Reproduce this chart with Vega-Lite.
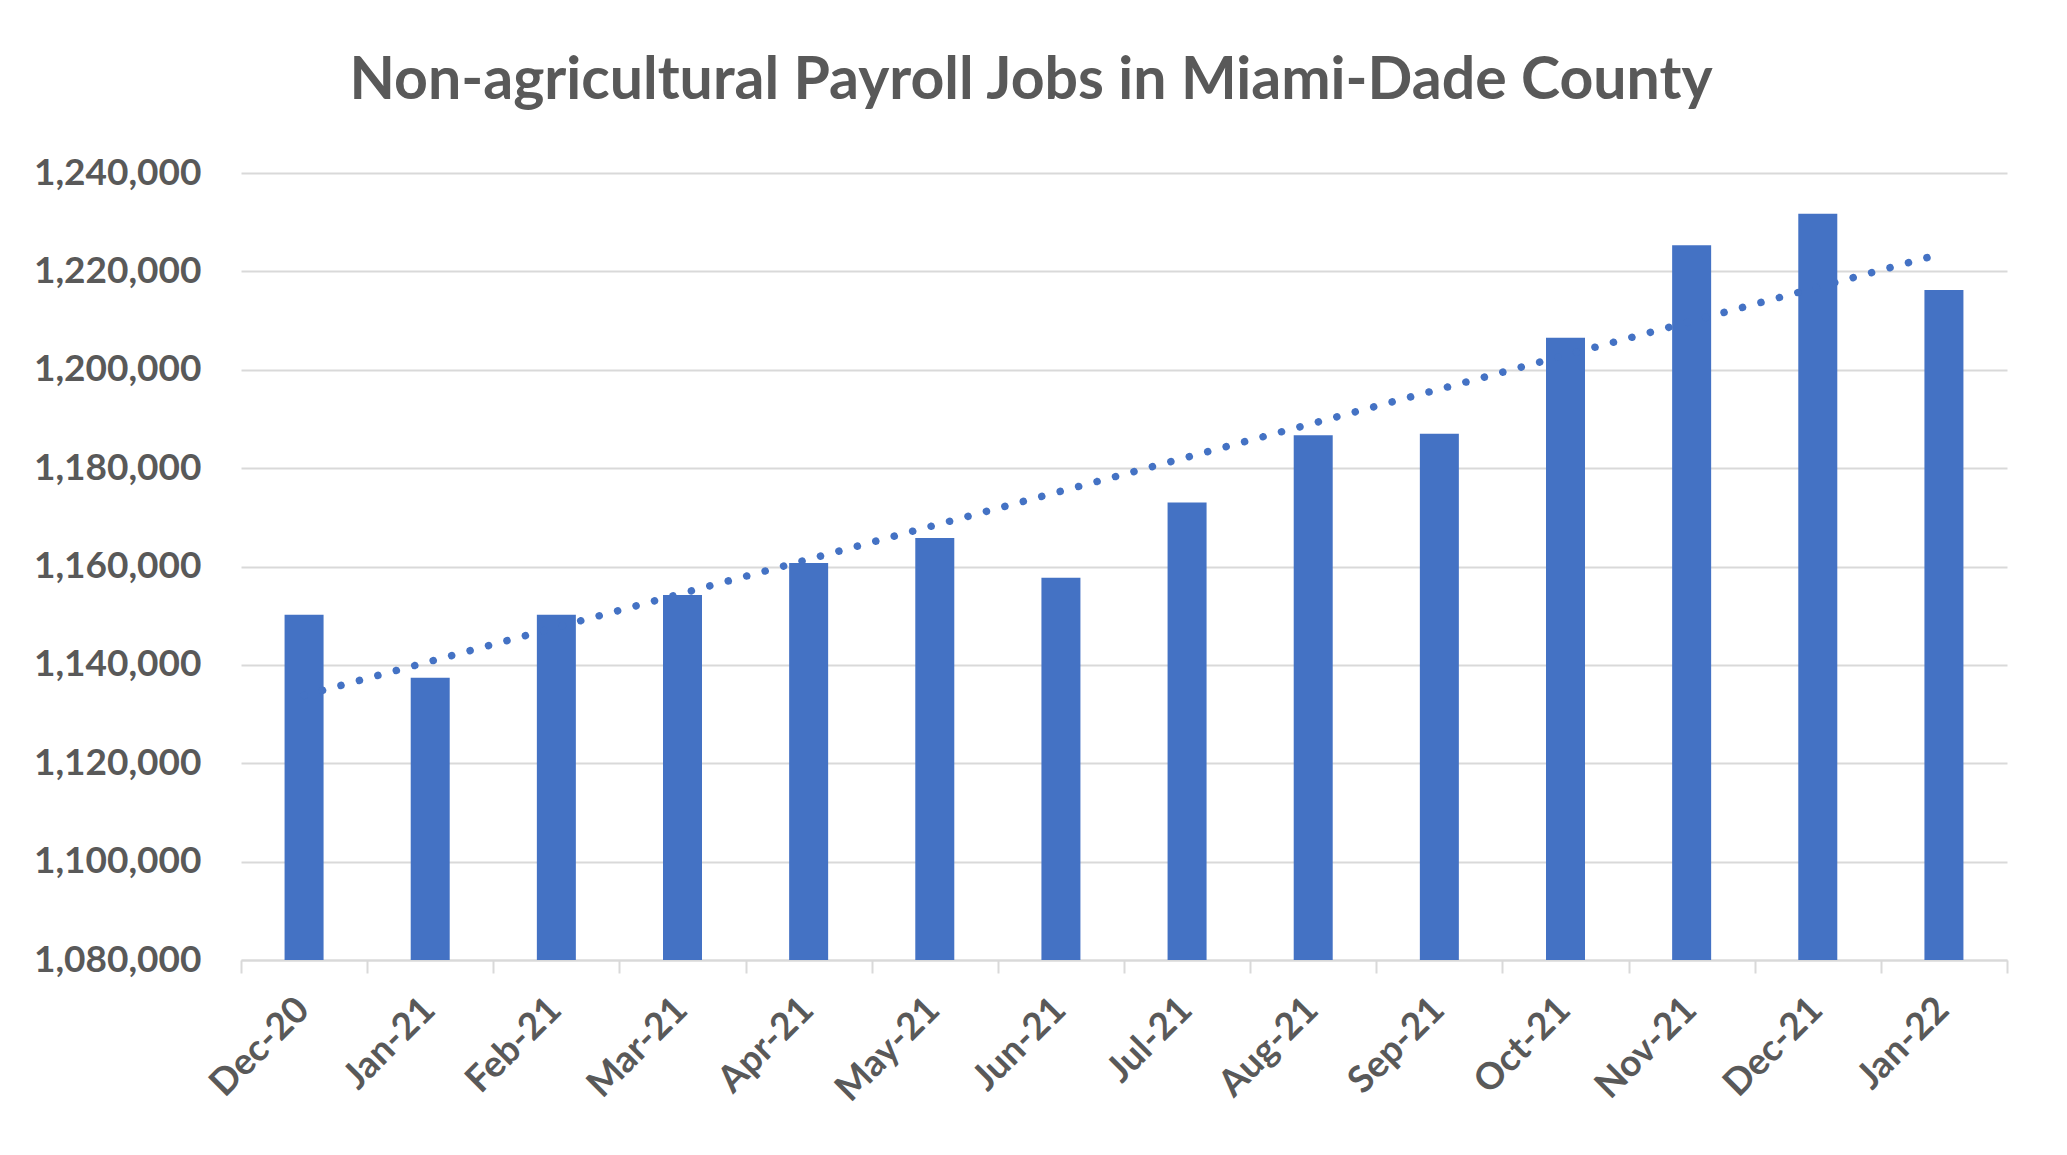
{
  "$schema": "https://vega.github.io/schema/vega-lite/v6.json",
  "autosize": {"type": "none"},
  "width": 1766,
  "height": 787,
  "padding": {"left": 241, "top": 173, "right": 60, "bottom": 195},
  "background": "white",
  "datasets": {
    "jobs": [
      {"i": 1, "month": "Dec-20", "jobs": 1150200},
      {"i": 2, "month": "Jan-21", "jobs": 1137400},
      {"i": 3, "month": "Feb-21", "jobs": 1150200},
      {"i": 4, "month": "Mar-21", "jobs": 1154200},
      {"i": 5, "month": "Apr-21", "jobs": 1160700},
      {"i": 6, "month": "May-21", "jobs": 1165800},
      {"i": 7, "month": "Jun-21", "jobs": 1157700},
      {"i": 8, "month": "Jul-21", "jobs": 1173000},
      {"i": 9, "month": "Aug-21", "jobs": 1186700},
      {"i": 10, "month": "Sep-21", "jobs": 1187000},
      {"i": 11, "month": "Oct-21", "jobs": 1206500},
      {"i": 12, "month": "Nov-21", "jobs": 1225300},
      {"i": 13, "month": "Dec-21", "jobs": 1231700},
      {"i": 14, "month": "Jan-22", "jobs": 1216200}
    ]
  },
  "data": {"name": "jobs"},
  "title": {
    "text": "Non-agricultural Payroll Jobs in Miami-Dade County",
    "font": "Lato",
    "fontSize": 59,
    "fontWeight": "bold",
    "color": "#595959",
    "anchor": "middle",
    "baseline": "alphabetic",
    "offset": -4,
    "dx": -93
  },
  "config": {
    "view": {"stroke": null},
    "axis": {
      "labelFont": "Lato",
      "labelFontSize": 37,
      "labelFontWeight": "bold",
      "labelColor": "#595959",
      "gridColor": "#d9d9d9",
      "gridWidth": 2,
      "domainColor": "#d9d9d9",
      "domainWidth": 2,
      "tickColor": "#d9d9d9",
      "tickWidth": 2
    }
  },
  "encoding": {
    "x": {
      "field": "month",
      "type": "ordinal",
      "sort": null,
      "title": null,
      "scale": {"paddingInner": 0, "paddingOuter": 0},
      "axis": {
        "labelAngle": -45,
        "tickBand": "extent",
        "tickSize": 13,
        "labelPadding": 18,
        "labelOffset": -14,
        "grid": false
      }
    },
    "y": {
      "field": "jobs",
      "type": "quantitative",
      "title": null,
      "scale": {"domain": [1080000, 1240000], "zero": false},
      "axis": {
        "values": [1080000, 1100000, 1120000, 1140000, 1160000, 1180000, 1200000, 1220000, 1240000],
        "format": ",d",
        "domain": false,
        "ticks": false,
        "labelPadding": 40
      }
    }
  },
  "layer": [
    {
      "mark": {"type": "bar", "color": "#4472C4", "size": 39, "clip": true}
    },
    {
      "transform": [
        {"regression": "jobs", "on": "i"},
        {"lookup": "i", "from": {"data": {"name": "jobs"}, "key": "i", "fields": ["month"]}}
      ],
      "mark": {
        "type": "line",
        "color": "#4472C4",
        "strokeWidth": 7.5,
        "strokeCap": "round",
        "strokeDash": [0.1, 19]
      }
    }
  ]
}
